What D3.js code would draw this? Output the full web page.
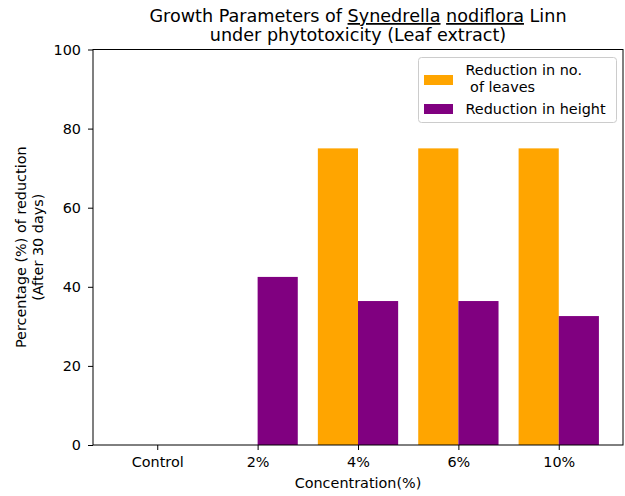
<!DOCTYPE html>
<html>
<head>
<meta charset="utf-8">
<script src="https://cdn.jsdelivr.net/npm/d3@7"></script>
<style>
  body { margin: 0; background: #fff; }
  text { font-family: "DejaVu Sans", sans-serif; fill: #000; }
</style>
</head>
<body>
<div id="vis-container"></div>
<script>
const width = 625,
    height = 496;

// data
var categories = ["Control", "2%", "4%", "6%", "10%"];
var leaves = [0, 0, 75, 75, 75];
var heights = [0, 42.5, 36.4, 36.4, 32.6];
var yTicks = [0, 20, 40, 60, 80, 100];

var margin = {left: 93, right: 2, top: 49.5, bottom: 51};

var svg = d3.select("#vis-container").append("svg")
    .attr("width", width)
    .attr("height", height);

// matplotlib-style numeric x: bars at i-0.4..i and i..i+0.4, 5% margins
var x = d3.scaleLinear()
    .domain([-0.64, categories.length - 1 + 0.64])
    .range([margin.left, width - margin.right]);

var y = d3.scaleLinear()
    .domain([0, 100])
    .range([height - margin.bottom, margin.top]);

var g = svg.append("g");

var barW = 0.4;

g.selectAll("rect.leaves")
    .data(leaves)
    .enter().append("rect")
    .attr("class", "leaves")
    .attr("x", (d, i) => x(i - barW))
    .attr("width", x(barW) - x(0))
    .attr("y", d => y(d))
    .attr("height", d => y(0) - y(d))
    .attr("fill", "#FFA500");

g.selectAll("rect.height")
    .data(heights)
    .enter().append("rect")
    .attr("class", "height")
    .attr("x", (d, i) => x(i))
    .attr("width", x(barW) - x(0))
    .attr("y", d => y(d))
    .attr("height", d => y(0) - y(d))
    .attr("fill", "#800080");

// axes
var xAxis = d3.axisBottom(x)
    .tickValues(d3.range(categories.length))
    .tickFormat(i => categories[i])
    .tickSizeOuter(0)
    .tickSize(5)
    .tickPadding(7);

var yAxis = d3.axisLeft(y)
    .tickValues(yTicks)
    .tickSizeOuter(0)
    .tickSize(5)
    .tickPadding(7);

var gx = svg.append("g")
    .attr("transform", "translate(0," + y(0) + ")")
    .call(xAxis);

var gy = svg.append("g")
    .attr("transform", "translate(" + margin.left + ",0)")
    .call(yAxis);

[gx, gy].forEach(a => {
  a.select(".domain").remove();
  a.selectAll("text").style("font-size", "14.4px").attr("fill", "#000");
  a.selectAll("line").attr("stroke", "#000");
});

// spines
svg.append("rect")
    .attr("x", x.range()[0])
    .attr("y", y.range()[1])
    .attr("width", x.range()[1] - x.range()[0])
    .attr("height", y.range()[0] - y.range()[1])
    .attr("fill", "none")
    .attr("stroke", "#000")
    .attr("stroke-width", 1);

var cx = (x.range()[0] + x.range()[1]) / 2;

// title, with underlined genus / species
var t1 = svg.append("text")
    .attr("x", cx)
    .attr("y", 22)
    .attr("text-anchor", "middle")
    .style("font-size", "17.6px");
t1.append("tspan").text("Growth Parameters of ");
t1.append("tspan").attr("text-decoration", "underline").text("Synedrella");
t1.append("tspan").text(" ");
t1.append("tspan").attr("text-decoration", "underline").text("nodiflora");
t1.append("tspan").text(" Linn");

svg.append("text")
    .attr("x", cx)
    .attr("y", 41)
    .attr("text-anchor", "middle")
    .style("font-size", "17.6px")
    .text("under phytotoxicity (Leaf extract)");

// axis labels
svg.append("text")
    .attr("x", cx)
    .attr("y", 488)
    .attr("text-anchor", "middle")
    .style("font-size", "14.4px")
    .text("Concentration(%)");

var ylab = svg.append("text")
    .attr("transform", "translate(26," + y(50) + ") rotate(-90)")
    .attr("text-anchor", "middle")
    .style("font-size", "14.4px");
ylab.append("tspan").attr("x", 0).attr("dy", 0).text("Percentage (%) of reduction");
ylab.append("tspan").attr("x", 0).attr("dy", 16.5).text("(After 30 days)");

// legend
var legend = svg.append("g");
legend.append("rect")
    .attr("x", 418.5).attr("y", 57.5)
    .attr("width", 198).attr("height", 65)
    .attr("rx", 3)
    .attr("fill", "#fff")
    .attr("fill-opacity", 0.8)
    .attr("stroke", "#ccc");

var legendItems = [
  {lines: ["Reduction in no.", " of leaves"], color: "#FFA500", patchY: 75, textY: 74.5},
  {lines: ["Reduction in height"], color: "#800080", patchY: 104, textY: 113.5}
];

legendItems.forEach(item => {
  legend.append("rect")
      .attr("x", 424).attr("y", item.patchY)
      .attr("width", 29).attr("height", 10)
      .attr("fill", item.color);
  var lt = legend.append("text")
      .attr("x", 465.5)
      .attr("y", item.textY)
      .style("font-size", "14.4px")
      .style("white-space", "pre");
  item.lines.forEach((l, k) => {
    lt.append("tspan").attr("x", 465.5).attr("dy", k ? 17 : 0).text(l);
  });
});
</script>
</body>
</html>
